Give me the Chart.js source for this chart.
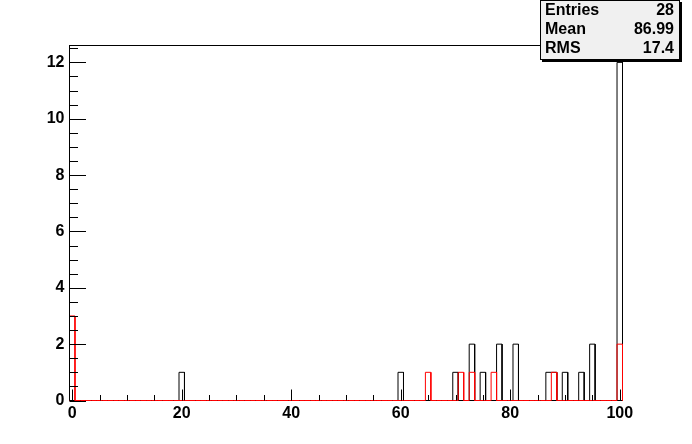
<!DOCTYPE html>
<html><head><meta charset="utf-8">
<script src="https://cdn.jsdelivr.net/npm/chart.js@4"></script>
<style>
html,body{margin:0;padding:0;background:#fff;}
#wrap{position:relative;width:692px;height:444px;overflow:hidden;}
#c{position:absolute;left:0;top:0;}
#stats{position:absolute;left:540px;top:0;width:138px;height:58px;background:#f0f0f0;border:1px solid #000;box-shadow:2px 2px 0 #000;font:bold 16px "Liberation Sans",Arial,sans-serif;color:#000;}
.row{position:absolute;left:4px;right:5px;height:19px;line-height:19px;white-space:nowrap;}
.row .k{position:absolute;left:0;}
.row .v{position:absolute;right:0;}
</style></head>
<body>
<div id="wrap">
<canvas id="c" width="692" height="444"></canvas>
<div id="stats">
  <div class="row" style="top:-1px"><span class="k">Entries</span><span class="v" id="sEntries"></span></div>
  <div class="row" style="top:18px"><span class="k">Mean</span><span class="v" id="sMean"></span></div>
  <div class="row" style="top:37px"><span class="k">RMS</span><span class="v" id="sRms"></span></div>
</div>
</div>
<script>
// ---- data ----
const binFirst = 0;          // first bin centre
const binCount = 101;        // bins of width 1 centred on integers
const blackBins   = [20, 60, 70, 73, 75, 78, 81, 87, 88, 90, 93, 95, 100];
const blackCounts = [ 1,  1,  1,  2,  1,  2,  2,  1,  1,  1,  1,  2,  12];
const redBins     = [0, 65, 71, 73, 77, 88, 100];
const redCounts   = [3,  1,  1,  1,  1,  1,   2];
const xTickLabels = [0, 20, 40, 60, 80, 100];
const yTickLabels = [0, 2, 4, 6, 8, 10, 12];
const statMean = "86.99";
const statRms  = "17.4";
const xMin = -0.5, xMax = 100.5, yMin = 0, yMax = 12.6;

// ---- build histogram outlines ----
function fullCounts(bins, counts){
  const a = new Array(binCount).fill(0);
  bins.forEach((b,i)=>{ a[b - binFirst] += counts[i]; });
  return a;
}
function outline(arr){
  const w = (xMax - xMin) / binCount;
  const pts = [{x:xMin, y:0}];
  arr.forEach((c,i)=>{
    const lo = xMin + i*w, hi = lo + w;
    pts.push({x:lo, y:c}, {x:hi, y:c});
  });
  pts.push({x:xMax, y:0});
  return pts;
}
const blackData = outline(fullCounts(blackBins, blackCounts));
const redData = outline(fullCounts(redBins, redCounts));

document.getElementById('sEntries').textContent = blackCounts.reduce((a,b)=>a+b,0);
document.getElementById('sMean').textContent = statMean;
document.getElementById('sRms').textContent = statRms;

const FONT = {family:'"Liberation Sans", Arial, sans-serif', weight:'bold', size:16};

const rootAxes = {
  id:'rootAxes',
  beforeDatasetsDraw(chart){
    const {ctx, chartArea:a} = chart;
    ctx.save();
    ctx.strokeStyle = '#000'; ctx.lineWidth = 1;
    ctx.strokeRect(a.left, a.top, a.right - a.left, a.bottom - a.top);
    ctx.restore();
  },
  afterDatasetsDraw(chart){
    const {ctx, chartArea:a, scales:{x, y}} = chart;
    ctx.save();
    ctx.strokeStyle = '#000'; ctx.lineWidth = 1;
    ctx.beginPath();
    // x ticks (inward)
    const xMajor = xTickLabels[1] - xTickLabels[0], xMinor = xMajor / 4;
    for (let v = xTickLabels[0]; v <= xTickLabels[xTickLabels.length-1] + 1e-9; v += xMinor){
      const px = Math.round(x.getPixelForValue(v)) + 0.5;
      const major = Math.abs(v / xMajor - Math.round(v / xMajor)) < 1e-6;
      ctx.moveTo(px, a.bottom);
      ctx.lineTo(px, a.bottom - (major ? 11 : 5.5));
    }
    // y ticks (inward)
    const yMajor = yTickLabels[1] - yTickLabels[0], yMinor = yMajor / 4;
    for (let v = yMin; v <= yMax + 1e-9; v += yMinor){
      const py = Math.round(y.getPixelForValue(v)) + 0.5;
      const major = Math.abs(v / yMajor - Math.round(v / yMajor)) < 1e-6;
      ctx.moveTo(a.left, py);
      ctx.lineTo(a.left + (major ? 16.5 : 8.5), py);
    }
    // left axis line on top
    ctx.moveTo(a.left, a.top);
    ctx.lineTo(a.left, a.bottom);
    ctx.stroke();
    ctx.restore();
  }
};

new Chart(document.getElementById('c'), {
  type:'line',
  data:{datasets:[
    {label:'red', data:redData, borderColor:'#ff0000', borderWidth:1, pointRadius:0, tension:0, fill:false, order:1, clip:false},
    {label:'black', data:blackData, borderColor:'#000000', borderWidth:1, pointRadius:0, tension:0, fill:false, order:2, clip:false}
  ]},
  options:{
    responsive:false, animation:false, devicePixelRatio:1,
    layout:{padding:{top:45.5, right:69.5, left:0, bottom:0}},
    plugins:{legend:{display:false}, tooltip:{enabled:false}},
    scales:{
      x:{type:'linear', min:xMin, max:xMax,
         grid:{display:false, drawTicks:false}, border:{display:false},
         ticks:{font:FONT, color:'#000', padding:3, maxRotation:0, autoSkip:false},
         afterBuildTicks(s){ s.ticks = xTickLabels.map(v=>({value:v})); },
         afterFit(s){ s.height = 43.5; }},
      y:{type:'linear', min:yMin, max:yMax,
         grid:{display:false, drawTicks:false}, border:{display:false},
         ticks:{font:FONT, color:'#000', padding:5, autoSkip:false},
         afterBuildTicks(s){ s.ticks = yTickLabels.map(v=>({value:v})); },
         afterFit(s){ s.width = 69.5; }}
    }
  },
  plugins:[rootAxes]
});
</script>
</body></html>
